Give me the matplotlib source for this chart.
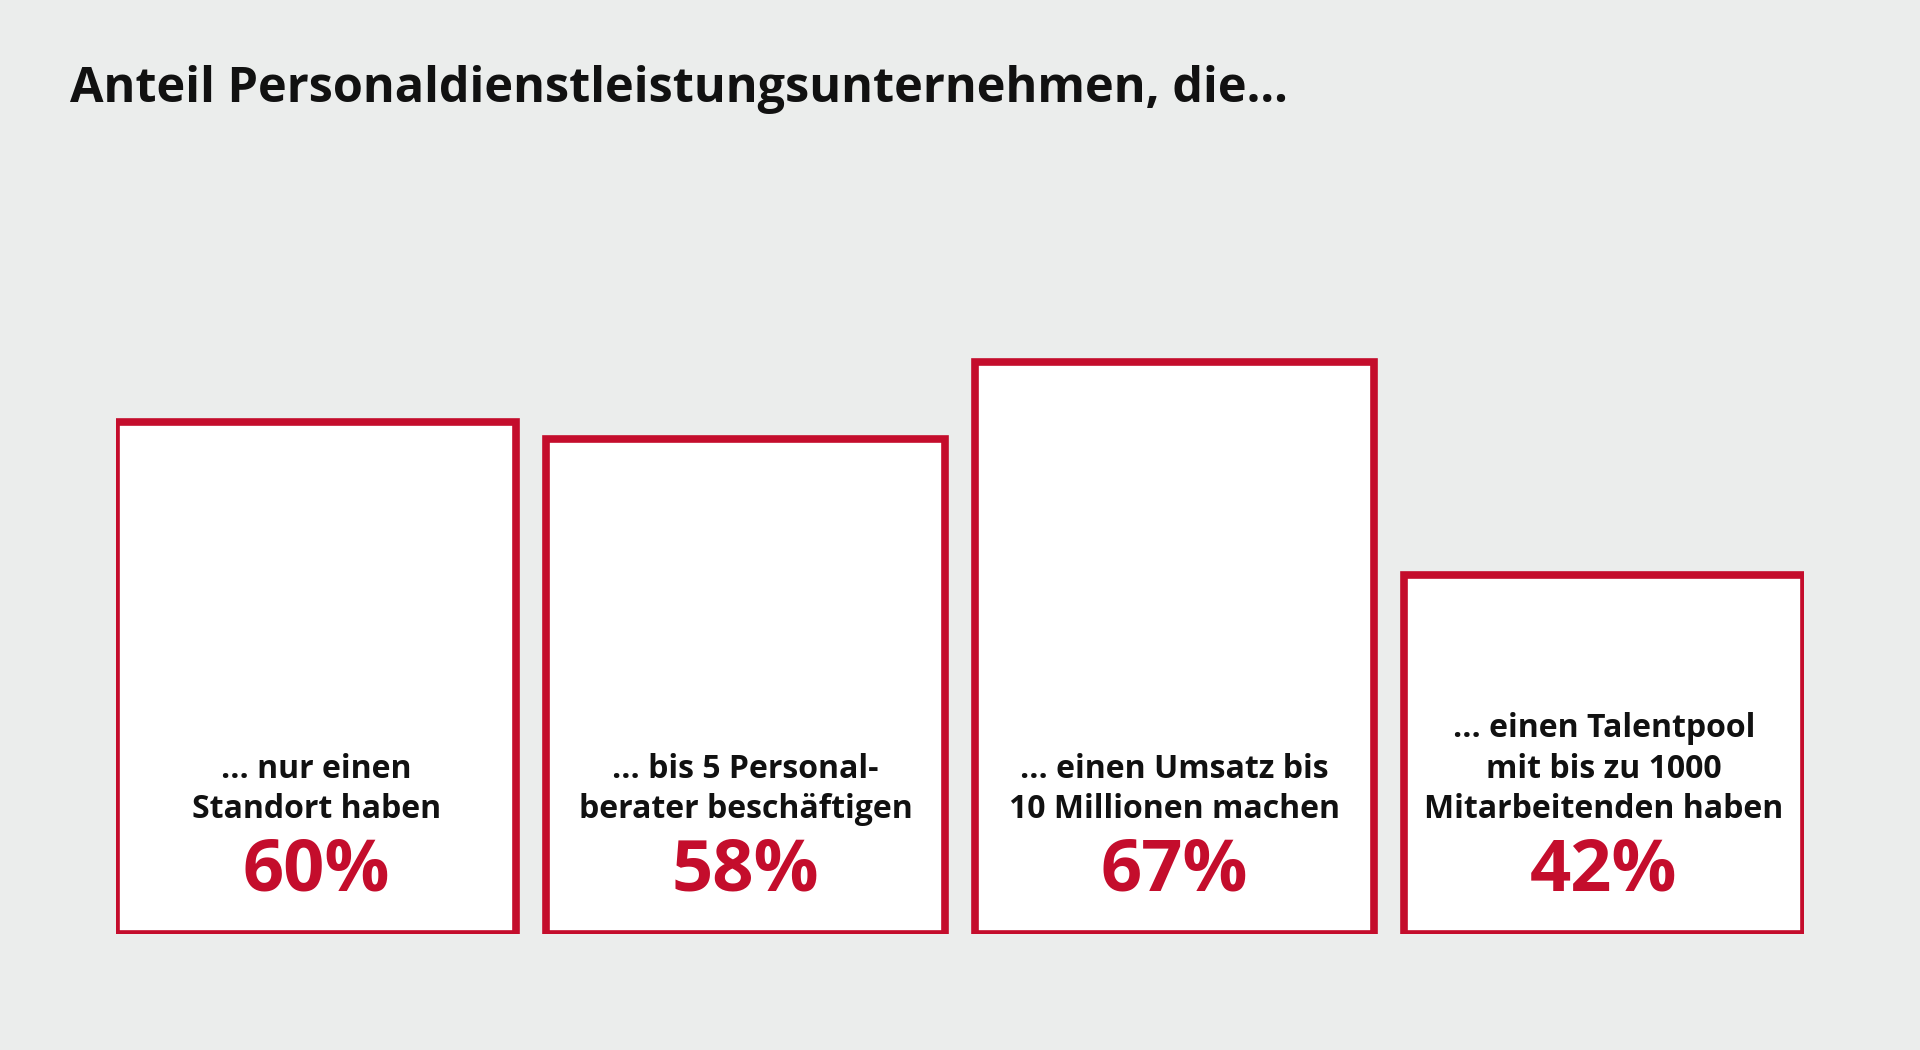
import matplotlib
matplotlib.use("Agg")
import matplotlib.pyplot as plt

categories = ["... nur einen\nStandort haben",
              "... bis 5 Personal-\nberater beschäftigen",
              "... einen Umsatz bis\n10 Millionen machen",
              "... einen Talentpool\nmit bis zu 1000\nMitarbeitenden haben"]
values = [60, 58, 67, 42]
labels = ["60%", "58%", "67%", "42%"]

BG = "#EBEDEC"
RED = "#C40D2C"
fig = plt.figure(figsize=(19.2, 10.5), dpi=100, facecolor=BG)
ax = fig.add_axes([95/1568, 95/858, 1378/1568, 697/858])
ax.set_facecolor("none")
x = range(len(values))
ax.bar(x, values, width=326/350, color="white", edgecolor=RED, linewidth=5.5)
ax.set_xlim(-163/350, 3 + 163/350)
ax.set_ylim(0, 100)
ax.axis("off")
for i, (c, l) in enumerate(zip(categories, labels)):
    ax.text(i, 12.6, c, ha="center", va="bottom", fontsize=23, fontweight="bold",
            family="Open Sans", color="#111111", linespacing=1.3)
    ax.text(i, 7.3, l, ha="center", va="center", fontsize=52, fontweight="bold",
            family="Open Sans", color=RED)
fig.text(57/1568, 1 - 83/858, "Anteil Personaldienstleistungsunternehmen, die...",
         ha="left", va="baseline", fontsize=35, fontweight="bold",
         family="Open Sans", color="#111111")
fig.savefig("out.png", facecolor=BG)
